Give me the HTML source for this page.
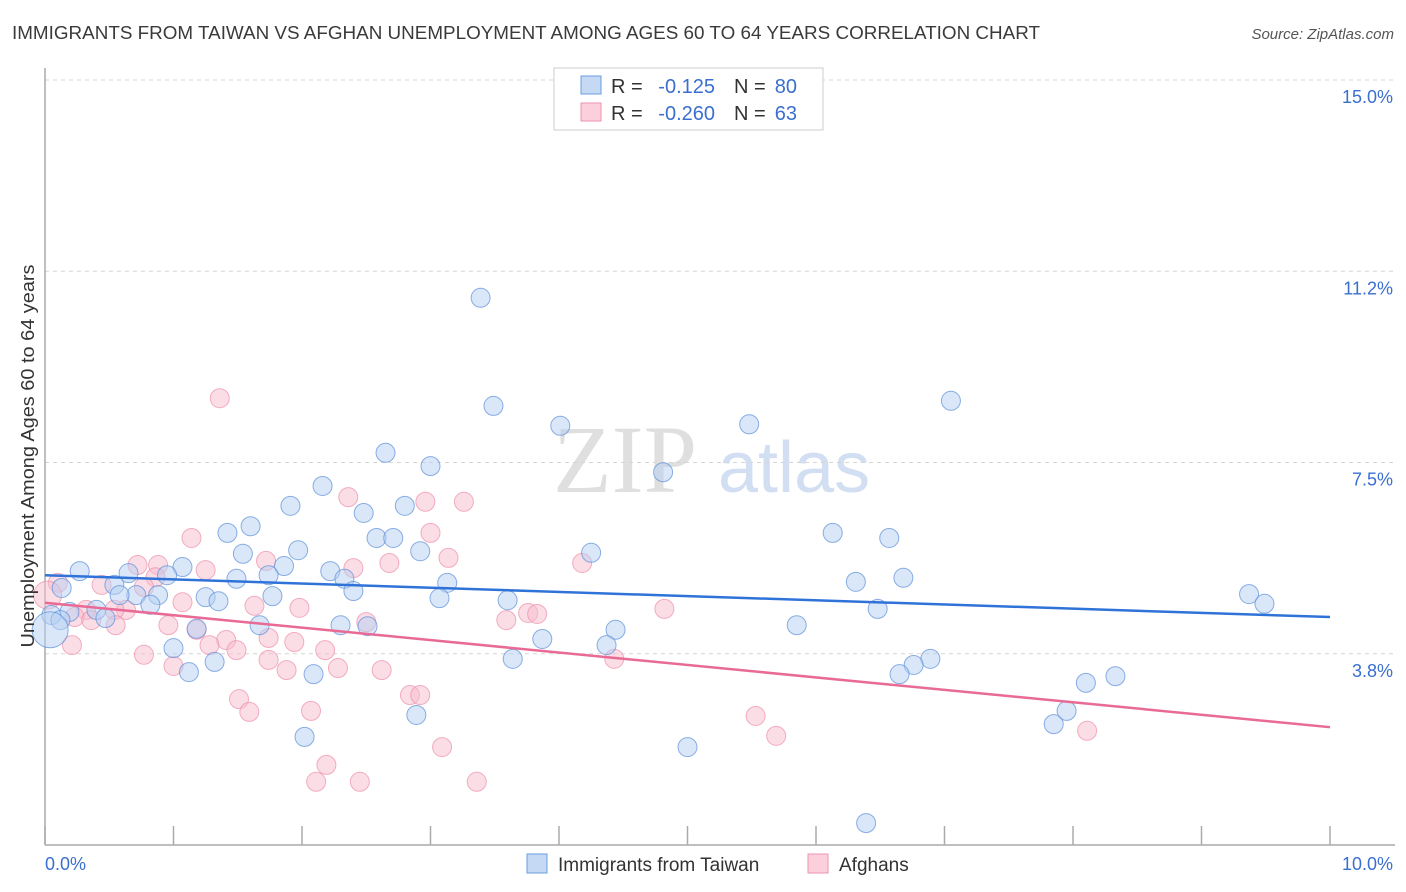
<!DOCTYPE html>
<html><head><meta charset="utf-8"><style>
body{margin:0;background:#fff;font-family:"Liberation Sans",sans-serif;}
svg{display:block}
</style></head><body>
<svg id="chart" width="1406" height="892" xmlns="http://www.w3.org/2000/svg">
<text x="12" y="39" font-size="18" fill="#3a3a3a" textLength="1028" lengthAdjust="spacingAndGlyphs">IMMIGRANTS FROM TAIWAN VS AFGHAN UNEMPLOYMENT AMONG AGES 60 TO 64 YEARS CORRELATION CHART</text>
<text x="1394" y="39" font-size="15" fill="#555" font-style="italic" text-anchor="end">Source: ZipAtlas.com</text>
<g><text x="553" y="492" font-size="96" fill="#d8d8d8" font-family="Liberation Serif,serif" opacity="0.8">ZIP</text><text x="718" y="492" font-size="72" fill="#c7d7ef" opacity="0.8">atlas</text></g>
<g id="grid"></g>
<g id="axes"></g>
<g id="points"></g>
<g id="lines"></g>
<text transform="translate(34,456) rotate(-90)" font-size="18" fill="#333" text-anchor="middle" textLength="383" lengthAdjust="spacingAndGlyphs">Unemployment Among Ages 60 to 64 years</text>
<g>
<rect x="554" y="68" width="269" height="62" fill="#fff" stroke="#ccc"/>
<rect x="581" y="76" width="20" height="18" fill="#c5d9f5" stroke="#6a9ee0"/>
<rect x="581" y="103" width="20" height="18" fill="#fbd0dc" stroke="#ee93ad"/>
<text x="611" y="93" font-size="20" fill="#333">R =</text>
<text x="715" y="93" font-size="20" fill="#3a6fd0" text-anchor="end">-0.125</text>
<text x="734" y="93" font-size="20" fill="#333">N =</text>
<text x="797" y="93" font-size="20" fill="#3a6fd0" text-anchor="end">80</text>
<text x="611" y="120" font-size="20" fill="#333">R =</text>
<text x="715" y="120" font-size="20" fill="#3a6fd0" text-anchor="end">-0.260</text>
<text x="734" y="120" font-size="20" fill="#333">N =</text>
<text x="797" y="120" font-size="20" fill="#3a6fd0" text-anchor="end">63</text>
</g>
<g>
<rect x="527" y="854" width="20" height="19" fill="#c5d9f5" stroke="#6a9ee0"/>
<text x="558" y="871" font-size="19" fill="#333">Immigrants from Taiwan</text>
<rect x="808" y="854" width="20" height="19" fill="#fbd0dc" stroke="#ee93ad"/>
<text x="839" y="871" font-size="19" fill="#333">Afghans</text>
</g>
</svg>
<script>
const xTicks=[0,1,2,3,4,5,6,7,8,9,10];
const yTicks=[3.75,7.5,11.25,15];
const yTickLabels=["3.8%","7.5%","11.2%","15.0%"];
const blueX=[3.39,3.49,4.01,5.48,7.05,4.81,2.65,3.00,2.16,1.91,2.80,2.48,1.60,1.42,6.13,6.57,2.58,2.71,1.97,2.92,1.54,4.25,1.07,1.86,0.27,0.65,0.95,1.74,2.22,1.49,2.33,6.68,6.31,3.13,0.54,0.13,2.40,9.37,9.49,0.88,0.71,0.58,1.25,1.35,1.77,3.07,3.60,0.82,0.40,6.48,0.19,0.05,0.47,0.12,1.67,2.30,2.51,5.85,4.44,1.18,0.04,3.87,4.37,1.00,6.89,6.76,3.64,1.32,1.12,2.09,6.65,8.33,8.10,7.95,2.89,7.85,2.02,5.00,6.39];
const blueY=[10.73,8.61,8.22,8.25,8.71,7.31,7.69,7.43,7.04,6.65,6.65,6.51,6.25,6.12,6.12,6.02,6.02,6.02,5.78,5.76,5.71,5.73,5.45,5.47,5.37,5.33,5.29,5.29,5.37,5.22,5.22,5.24,5.16,5.14,5.10,5.04,4.98,4.92,4.73,4.90,4.90,4.90,4.86,4.78,4.88,4.84,4.80,4.71,4.61,4.63,4.57,4.51,4.45,4.41,4.31,4.31,4.29,4.31,4.22,4.24,4.22,4.04,3.92,3.86,3.65,3.53,3.65,3.59,3.39,3.35,3.35,3.31,3.18,2.63,2.55,2.37,2.12,1.92,0.43];
const pinkX=[1.36,2.36,2.96,3.26,3.00,1.14,3.14,1.72,2.68,4.18,0.72,0.88,2.40,1.25,0.10,0.86,0.44,0.77,0.02,1.07,1.98,1.63,0.63,3.76,3.83,4.82,0.54,0.32,0.23,0.36,0.55,0.96,2.50,3.59,1.18,1.74,1.94,1.41,1.28,1.49,2.18,0.21,0.77,4.43,1.00,1.74,1.88,2.28,2.62,1.51,2.84,2.92,1.59,2.07,5.53,5.69,8.11,3.09,2.19,2.11,2.45,3.36];
const pinkY=[8.76,6.82,6.73,6.73,6.12,6.02,5.63,5.57,5.53,5.53,5.49,5.49,5.43,5.39,5.14,5.25,5.10,5.06,4.90,4.76,4.65,4.69,4.61,4.55,4.53,4.63,4.61,4.61,4.47,4.41,4.31,4.31,4.37,4.41,4.22,4.06,3.98,4.02,3.92,3.82,3.82,3.92,3.73,3.65,3.51,3.63,3.43,3.47,3.43,2.86,2.94,2.94,2.61,2.63,2.53,2.14,2.24,1.92,1.57,1.24,1.24,1.24];
const blueTrend=[5.29,4.47];
const pinkTrend=[4.75,2.31];
const NS="http://www.w3.org/2000/svg";
const X=v=>45+v*128.5, Y=v=>845-v*51;
function mk(t,a,p){const e=document.createElementNS(NS,t);for(const k in a)e.setAttribute(k,a[k]);document.getElementById(p).appendChild(e);return e;}
yTicks.forEach((t,i)=>{
 const g=mk('line',{x1:45,x2:1395,y1:Y(t),y2:Y(t),stroke:'#d5d5d5','stroke-dasharray':'4,4'},'grid');
 
 
 const l=mk('text',{x:1393,y:Y(t)+23,'font-size':18,fill:'#3a6fd0','text-anchor':'end'},'axes');
 l.textContent=yTickLabels[i];
 
 
});
const axl=mk('line',{x1:45,x2:1395,y1:845,y2:845,stroke:'#aaa','stroke-width':1.5},'axes');


const ayl=mk('line',{x1:45,x2:45,y1:68,y2:845,stroke:'#aaa','stroke-width':1.5},'axes');


xTicks.forEach(t=>{
 const k=mk('line',{x1:X(t),x2:X(t),y1:826,y2:845,stroke:'#aaa','stroke-width':1.5},'axes');
 
 
});
const xl0=mk('text',{x:45,y:870,'font-size':18,fill:'#3a6fd0'},'axes');xl0.textContent='0.0%';


const xl1=mk('text',{x:1393,y:870,'font-size':18,fill:'#3a6fd0','text-anchor':'end'},'axes');xl1.textContent='10.0%';


function pts(xs,ys,fill,stroke,name){
 xs.forEach((x,i)=>{
  let r=9.5;
  if(x<0.06&&name==='taiwan-point'&&ys[i]<4.3)r=18;
  if(x<0.03&&name==='afghan-point')r=14;
  const c=mk('circle',{cx:X(x),cy:Y(ys[i]),r:r,fill:fill,'fill-opacity':0.5,stroke:stroke,'stroke-opacity':0.7,'stroke-width':1},'points');
  
  
 });
}
pts(pinkX,pinkY,'#f8bccd','#ee8eaa','afghan-point');
pts(blueX,blueY,'#b5cff2','#5b8fd9','taiwan-point');
const bl=mk('line',{x1:X(0),y1:Y(blueTrend[0]),x2:X(10),y2:Y(blueTrend[1]),stroke:'#2f73d9','stroke-width':2.5},'lines');


const pl=mk('line',{x1:X(0),y1:Y(pinkTrend[0]),x2:X(10),y2:Y(pinkTrend[1]),stroke:'#e86a95','stroke-width':2.5},'lines');


</script>
</body></html>
